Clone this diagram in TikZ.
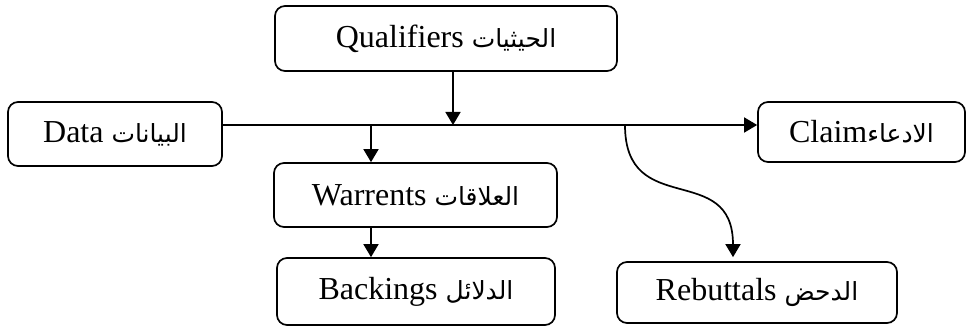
\documentclass[tikz,border=0pt]{standalone}
\usepackage{fontspec}
\setmainfont{Liberation Serif}
\newfontfamily\arabicfont[Script=Arabic,Scale=0.78]{DejaVu Sans}
\TeXXeTstate=1
\usetikzlibrary{arrows.meta}
\begin{document}
\begin{tikzpicture}[x=1pt,y=-1pt,
  box/.style={draw,line width=1.7pt,rounded corners=10pt,inner sep=0pt,font=\fontsize{32}{38}\selectfont},
  arr/.style={line width=1.7pt,-{Triangle[length=13pt,width=15pt]}}]
\useasboundingbox (0,0) rectangle (967,328);
\node[box,minimum width=214pt,minimum height=64pt] (data) at (115,134) {Data {\arabicfont\beginR البيانات\endR}};
\node[box,minimum width=342pt,minimum height=65pt] (qual) at (446,38.5) {Qualifiers {\arabicfont\beginR الحيثيات\endR}};
\node[box,minimum width=207pt,minimum height=60pt] (claim) at (861.5,132) {Claim{\arabicfont\beginR الادعاء\endR}};
\node[box,minimum width=283pt,minimum height=64pt] (warr) at (415.5,195) {Warrents {\arabicfont\beginR العلاقات\endR}};
\node[box,minimum width=278pt,minimum height=67pt] (back) at (416,291.5) {Backings {\arabicfont\beginR الدلائل\endR}};
\node[box,minimum width=280pt,minimum height=61pt] (rebut) at (757,292.5) {Rebuttals {\arabicfont\beginR الدحض\endR}};
\coordinate (q) at (453,125);
\coordinate (w) at (371,125);
\coordinate (r) at (625,125);
\draw[arr] ([yshift=9pt]data.east) -- ([yshift=7pt]claim.west);
\draw[arr] (qual.south -| q) -- (q);
\draw[arr] (w) -- (warr.north -| w);
\draw[arr] (warr.south -| w) -- (back.north -| w);
\draw[arr] (r) .. controls (625,220) and (733,160) .. ([yshift=4pt]rebut.north -| 733,0);
\end{tikzpicture}
\end{document}
